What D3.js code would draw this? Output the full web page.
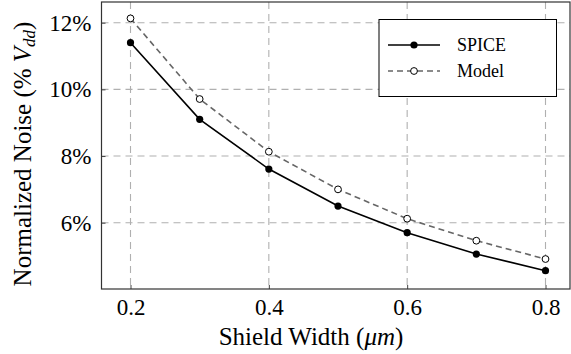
<!DOCTYPE html>
<html>
<head>
<meta charset="utf-8">
<script src="https://cdn.jsdelivr.net/npm/d3@7"></script>
</head>
<body style="margin:0; background:#fff">
<svg width="571" height="354"></svg>
<script>
  var widths = [0.2, 0.3, 0.4, 0.5, 0.6, 0.7, 0.8]
  var spice = [11.4, 9.1, 7.61, 6.5, 5.7, 5.06, 4.56]
  var model = [12.13, 9.71, 8.13, 7.0, 6.12, 5.46, 4.91]
  var xTicks = [0.2, 0.4, 0.6, 0.8]
  var yTicks = [6, 8, 10, 12]

  var svg = d3.select('svg')
  var plot = {left: 101.5, right: 570, top: 2, bottom: 289}

  var x = d3.scaleLinear().domain([0.2, 0.8]).range([130.5, 545.5])
  var y = d3.scaleLinear().domain([6, 12]).range([222.7, 22.7])

  // grid
  svg.append('g').selectAll('line')
     .data(xTicks).enter().append('line')
     .attr('x1', d => x(d)).attr('x2', d => x(d))
     .attr('y1', plot.top).attr('y2', plot.bottom)
     .style('stroke', '#b0b0b0').style('stroke-width', 1.1)
     .style('stroke-dasharray', '7,5')
  svg.append('g').selectAll('line')
     .data(yTicks).enter().append('line')
     .attr('y1', d => y(d)).attr('y2', d => y(d))
     .attr('x1', plot.left).attr('x2', plot.right)
     .style('stroke', '#b0b0b0').style('stroke-width', 1.1)
     .style('stroke-dasharray', '7,5')

  // axes (ticks inward), default serif font
  svg.append('g')
     .attr('transform', 'translate(0,' + plot.bottom + ')')
     .call(d3.axisBottom(x).tickValues(xTicks).tickSizeInner(-4).tickSizeOuter(0)
       .tickPadding(10).tickFormat(d3.format('.1f')))
     .attr('font-family', null).attr('font-size', null)
  svg.append('g')
     .attr('transform', 'translate(' + plot.left + ',0)')
     .call(d3.axisLeft(y).tickValues(yTicks).tickSizeInner(-4).tickSizeOuter(0)
       .tickPadding(10).tickFormat(d => d + '%'))
     .attr('font-family', null).attr('font-size', null)
  svg.selectAll('.domain').remove()
  svg.selectAll('.tick line').style('stroke', '#444')
  svg.selectAll('.tick text').style('font-size', '23px').style('fill', '#000')

  // frame
  svg.append('rect')
     .attr('x', plot.left).attr('y', plot.top)
     .attr('width', plot.right - plot.left).attr('height', plot.bottom - plot.top)
     .style('fill', 'none').style('stroke', '#333').style('stroke-width', 1.2)

  var line = d3.line().x((d, i) => x(widths[i])).y(d => y(d))

  svg.append('path').datum(model).attr('d', line)
     .style('fill', 'none').style('stroke', '#666').style('stroke-width', 1.6)
     .style('stroke-dasharray', '6,4')
  svg.selectAll('circle.model').data(model).enter().append('circle')
     .attr('class', 'model')
     .attr('cx', (d, i) => x(widths[i])).attr('cy', d => y(d)).attr('r', 3.4)
     .style('fill', '#fff').style('stroke', '#000').style('stroke-width', 1)

  svg.append('path').datum(spice).attr('d', line)
     .style('fill', 'none').style('stroke', '#000').style('stroke-width', 1.6)
  svg.selectAll('circle.spice').data(spice).enter().append('circle')
     .attr('class', 'spice')
     .attr('cx', (d, i) => x(widths[i])).attr('cy', d => y(d)).attr('r', 3.6)
     .style('fill', '#000')

  // legend
  var lg = svg.append('g')
  lg.append('rect').attr('x', 379).attr('y', 19.5).attr('width', 177.5).attr('height', 77)
    .style('fill', '#fff').style('stroke', '#000').style('stroke-width', 1)
  lg.append('line').attr('x1', 388).attr('x2', 440).attr('y1', 45).attr('y2', 45)
    .style('stroke', '#000').style('stroke-width', 1.6)
  lg.append('circle').attr('cx', 414).attr('cy', 45).attr('r', 3.6).style('fill', '#000')
  lg.append('line').attr('x1', 388).attr('x2', 440).attr('y1', 71).attr('y2', 71)
    .style('stroke', '#666').style('stroke-width', 1.6).style('stroke-dasharray', '6,4')
    .style('stroke-dashoffset', 1)
  lg.append('circle').attr('cx', 414).attr('cy', 71).attr('r', 3.4)
    .style('fill', '#fff').style('stroke', '#000').style('stroke-width', 1)
  lg.append('text').attr('x', 457).attr('y', 51).text('SPICE').style('font-size', '18px')
  lg.append('text').attr('x', 457).attr('y', 77).text('Model').style('font-size', '18px')

  // axis labels
  var xl = svg.append('text').attr('x', 311).attr('y', 345)
     .style('font-size', '25px').style('text-anchor', 'middle')
  xl.append('tspan').text('Shield Width (')
  xl.append('tspan').text('μm').style('font-style', 'italic')
  xl.append('tspan').text(')')

  var yl = svg.append('text').attr('transform', 'translate(31,154) rotate(-90)')
     .style('font-size', '25px').style('text-anchor', 'middle')
  yl.append('tspan').text('Normalized Noise (% ')
  yl.append('tspan').text('V').style('font-style', 'italic')
  yl.append('tspan').text('dd').style('font-style', 'italic').style('font-size', '17px').attr('dy', 4)
  yl.append('tspan').text(')').attr('dy', -4)
</script>
</body>
</html>
